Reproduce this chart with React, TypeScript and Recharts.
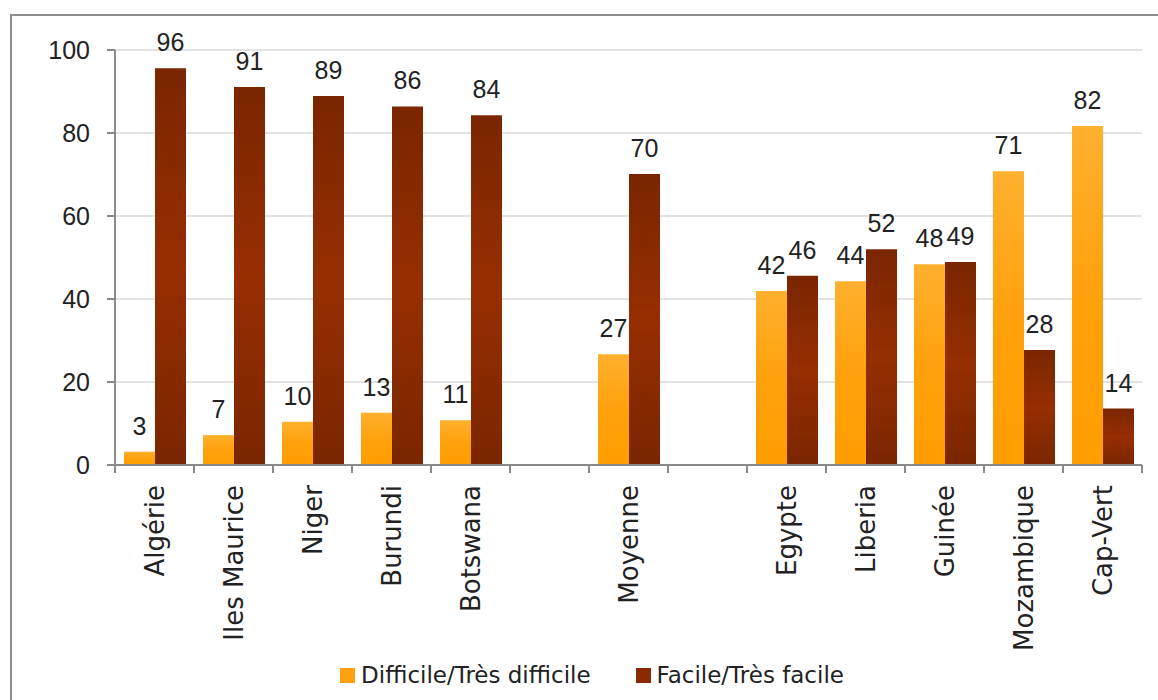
import { BarChart, Bar, XAxis, YAxis, CartesianGrid, LabelList, Legend } from "recharts";

// categories, blanks are the spacer slots around "Moyenne"
const categories = ["Algérie", "Iles Maurice", "Niger", "Burundi", "Botswana", "", "Moyenne", " ", "Egypte", "Liberia", "Guinée", "Mozambique", "Cap-Vert"];
const difficile = [3.2, 7.2, 10.4, 12.6, 10.8, null, 26.7, null, 41.9, 44.3, 48.4, 70.8, 81.7];
const facile = [95.6, 91.1, 88.9, 86.4, 84.3, null, 70.1, null, 45.6, 52.0, 48.9, 27.7, 13.6];
const yTicks = [0, 20, 40, 60, 80, 100];

const series = [
  { key: "difficile", name: "Difficile/Très difficile", color: "#FFA010", fill: "url(#gradOrange)" },
  { key: "facile", name: "Facile/Très facile", color: "#8B2A00", fill: "url(#gradBrown)" },
];

const data = categories.map((name, i) => ({ name, difficile: difficile[i], facile: facile[i] }));

const FONT = "'DejaVu Sans', sans-serif";
const NUM_FONT = "'Liberation Sans', Arial, sans-serif";
const TXT = "#222";
const AXIS = "#8a8a8a";

const fmtLabel = (v: any) => (v == null ? "" : String(Math.round(Number(v))));

function CategoryTick(props: any) {
  const { x, y, payload } = props;
  const half = payload && payload.offset ? payload.offset : 39.5;
  const axisY = y - 20;
  return (
    <g>
      <line x1={x - half} x2={x - half} y1={axisY} y2={axisY + 8} stroke={AXIS} strokeWidth={2} />
      <line x1={x + half} x2={x + half} y1={axisY} y2={axisY + 8} stroke={AXIS} strokeWidth={2} />
      <text
        x={0}
        y={0}
        transform={`translate(${x},${y}) rotate(-90)`}
        textAnchor="end"
        dominantBaseline="central"
        fontSize={26}
        fontFamily={FONT}
        fill={TXT}
      >
        {String(payload.value).trim()}
      </text>
    </g>
  );
}

function LegendContent() {
  return (
    <div
      style={{
        display: "flex",
        justifyContent: "center",
        alignItems: "center",
        gap: 45,
        height: 40,
        paddingLeft: 42,
        fontFamily: FONT,
        fontSize: 23,
        color: TXT,
      }}
    >
      {series.map((s) => (
        <span key={s.key} style={{ display: "flex", alignItems: "center" }}>
          <span style={{ width: 15, height: 15, background: s.color, marginRight: 6, display: "inline-block" }} />
          {s.name}
        </span>
      ))}
    </div>
  );
}

export default function App() {
  return (
    <div style={{ position: "fixed", left: 0, top: 0, width: 1158, height: 700, background: "#fff", overflow: "hidden" }}>
      <div
        style={{
          position: "absolute",
          left: 10,
          top: 14,
          width: 1200,
          height: 760,
          border: "2px solid #8f8f8f",
        }}
      />
      <div style={{ position: "absolute", left: 0, top: 0 }}>
        <BarChart
          width={1158}
          height={700}
          data={data}
          margin={{ top: 50, right: 16, left: 0, bottom: 5 }}
          barSize={31}
          barGap={0}
        >
          <defs>
            <linearGradient id="gradOrange" x1="0" y1="0" x2="0" y2="1">
              <stop offset="0%" stopColor="#FFB02E" />
              <stop offset="50%" stopColor="#FFA10C" />
              <stop offset="100%" stopColor="#FF9E00" />
            </linearGradient>
            <linearGradient id="gradBrown" x1="0" y1="0" x2="0" y2="1">
              <stop offset="0%" stopColor="#7A2600" />
              <stop offset="50%" stopColor="#962E00" />
              <stop offset="100%" stopColor="#7A2600" />
            </linearGradient>
          </defs>
          <CartesianGrid vertical={false} stroke="#d9d9d9" strokeWidth={1.5} />
          <XAxis
            dataKey="name"
            interval={0}
            height={190}
            tickLine={false}
            tickSize={8}
            tickMargin={12}
            axisLine={{ stroke: AXIS, strokeWidth: 2 }}
            tick={<CategoryTick />}
          />
          <YAxis
            width={115}
            domain={[0, 100]}
            ticks={yTicks}
            tickSize={8}
            tickMargin={17}
            axisLine={{ stroke: AXIS, strokeWidth: 2 }}
            tickLine={{ stroke: AXIS, strokeWidth: 2 }}
            tick={{ fill: TXT, fontSize: 25, fontFamily: NUM_FONT }}
          />
          <Legend verticalAlign="bottom" height={40} content={<LegendContent />} />
          {series.map((s) => (
            <Bar key={s.key} dataKey={s.key} name={s.name} fill={s.fill} isAnimationActive={false}>
              <LabelList
                dataKey={s.key}
                position="top"
                offset={17}
                formatter={fmtLabel}
                style={{ fill: TXT, fontSize: 25, fontFamily: NUM_FONT }}
              />
            </Bar>
          ))}
        </BarChart>
      </div>
    </div>
  );
}
